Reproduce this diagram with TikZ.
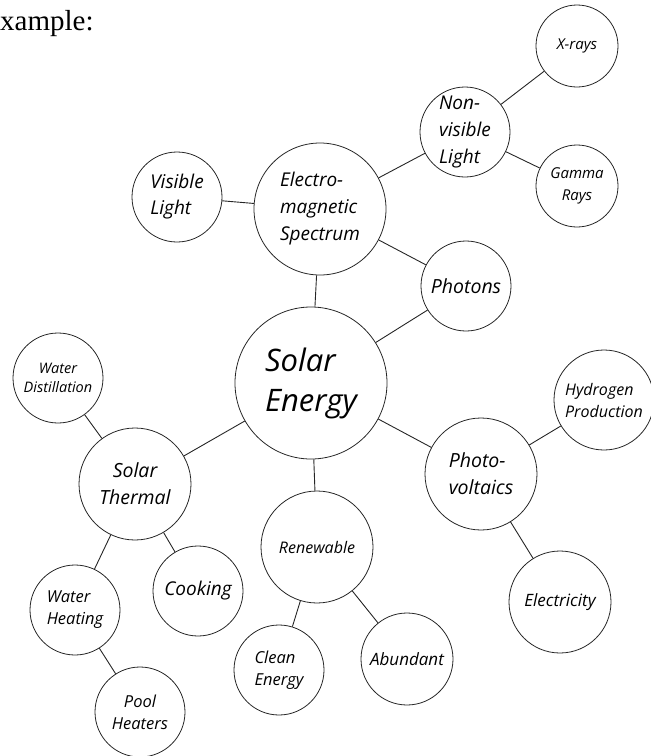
\documentclass[tikz,border=0pt]{standalone}
\usepackage{fontspec}
\usepackage{tikz}
\setmainfont{Liberation Serif}
\newfontfamily\bubblefont{Open Sans}

\tikzset{
    bubble/.style={circle,
        draw = black!85,
        line width = 0.8pt,
        inner sep = 0pt},
    bubbletext/.style 2 args={font=\bubblefont\itshape\fontsize{#1}{#2}\selectfont,
        align = left,
        inner sep = 0pt}
}

\begin{document}
\begin{tikzpicture}[x=1pt,y=-1pt,
    every edge/.style={draw, black!85, line width=0.9pt}]

    \useasboundingbox (0,0) rectangle (651,756);

    \node[anchor = base west,
          inner sep = 0pt,
          font = \fontsize{29}{34}\selectfont
          ] (heading) at (0,30) {xample:};

    % centre
    \node[bubble, minimum size = 152pt] (solar) at (311,383) {};
    \node[bubbletext={31}{40}] (solar-t) at (solar.center) {Solar\\Energy};

    % upper branch
    \node[bubble, minimum size = 132pt] (em) at (320,209) {};
    \node[bubbletext={19}{27}] (em-t) at (em.center) {Electro-\\magnetic\\Spectrum};

    \node[bubble, minimum size = 90pt] (visible) at (177,197) {};
    \node[bubbletext={19}{26}] (visible-t) at (visible.center) {Visible\\Light};

    \node[bubble, minimum size = 90pt] (nonvis) at (465,132) {};
    \node[bubbletext={19}{27}] (nonvis-t) at (nonvis.center) {Non-\\visible\\Light};

    \node[bubble, minimum size = 82pt] (xrays) at (577,46) {};
    \node[bubbletext={15}{20}] (xrays-t) at (xrays.center) {X-rays};

    \node[bubble, minimum size = 82pt] (gamma) at (577,186) {};
    \node[bubbletext={15}{22}, align = center] (gamma-t) at (gamma.center) {Gamma\\Rays};

    \node[bubble, minimum size = 90pt] (photons) at (466,286) {};
    \node[bubbletext={19.5}{24}] (photons-t) at (photons.center) {Photons};

    % left branch
    \node[bubble, minimum size = 112pt] (thermal) at (135,484) {};
    \node[bubbletext={19.5}{27}, align = center] (thermal-t) at (thermal.center) {Solar\\Thermal};

    \node[bubble, minimum size = 90pt] (distill) at (58,378) {};
    \node[bubbletext={14.5}{19}, align = center] (distill-t) at (distill.center) {Water\\Distillation};

    \node[bubble, minimum size = 90pt] (cooking) at (198,591) {};
    \node[bubbletext={19}{24}] (cooking-t) at (cooking.center) {Cooking};

    \node[bubble, minimum size = 90pt] (heating) at (75,610) {};
    \node[bubbletext={16.5}{22}] (heating-t) at (heating.center) {Water\\Heating};

    \node[bubble, minimum size = 90pt] (pool) at (140,712) {};
    \node[bubbletext={16.5}{22}, align = center] (pool-t) at (pool.center) {Pool\\Heaters};

    % lower branch
    \node[bubble, minimum size = 112pt] (renew) at (317,547) {};
    \node[bubbletext={16}{22}] (renew-t) at (renew.center) {Renewable};

    \node[bubble, minimum size = 90pt] (clean) at (279,670) {};
    \node[bubbletext={16.5}{22}] (clean-t) at (clean.center) {Clean\\Energy};

    \node[bubble, minimum size = 92pt] (abundant) at (407,659) {};
    \node[bubbletext={17}{22}] (abundant-t) at (abundant.center) {Abundant};

    % right branch
    \node[bubble, minimum size = 112pt] (pv) at (481,474) {};
    \node[bubbletext={19.5}{27}] (pv-t) at (pv.center) {Photo-\\voltaics};

    \node[bubble, minimum size = 100pt] (hydrogen) at (604,400) {};
    \node[bubbletext={16}{22}] (hydrogen-t) at (hydrogen.center) {Hydrogen\\Production};

    \node[bubble, minimum size = 102pt] (electric) at (560,602) {};
    \node[bubbletext={17}{22}] (electric-t) at (electric.center) {Electricity};


    \path
    (solar) edge (em)
    (solar) edge (photons)
    (solar) edge (thermal)
    (solar) edge (renew)
    (solar) edge (pv)
    (em) edge (visible)
    (em) edge (nonvis)
    (em) edge (photons)
    (nonvis) edge (xrays)
    (nonvis) edge (gamma)
    (thermal) edge (distill)
    (thermal) edge (cooking)
    (thermal) edge (heating)
    (heating) edge (pool)
    (renew) edge (clean)
    (renew) edge (abundant)
    (pv) edge (hydrogen)
    (pv) edge (electric) ;

\end{tikzpicture}
\end{document}
